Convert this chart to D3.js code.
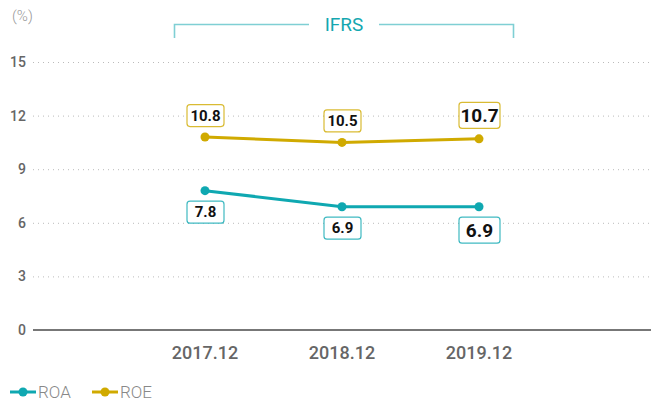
<!DOCTYPE html>
<html>
<head>
<meta charset="utf-8">
<script src="https://cdn.jsdelivr.net/npm/d3@7"></script>
<style>
  body { margin: 0; background: #fff; }
  svg { display: block; font-family: Roboto, "Noto Sans", sans-serif; }
</style>
</head>
<body>
<div id="vis_container"></div>
<script>
// Periods and values
var periods = ["2017.12", "2018.12", "2019.12"];
var roa = [7.8, 6.9, 6.9];
var roe = [10.8, 10.5, 10.7];
var y_ticks = [0, 3, 6, 9, 12, 15];

var width = 651;
var height = 401;

var teal = "#0fa8b1";
var gold = "#d0aa00";

var x = d3.scalePoint()
  .domain(periods)
  .range([205, 479]);

var y = d3.scaleLinear()
  .domain([0, 15])
  .range([330, 62]);

var svg = d3.select("#vis_container")
  .append("svg")
  .attr("width", width)
  .attr("height", height);

// unit label
svg.append("text")
  .attr("x", 12)
  .attr("y", 21)
  .style("font-size", "15px")
  .style("font-weight", "300")
  .style("fill", "#999")
  .text("(%)");

// IFRS bracket
var br = svg.append("g").style("stroke", "#7fcfd4").style("stroke-width", 1.6).style("fill", "none");
br.append("path").attr("d", "M174.5,38 V24.5 H309");
br.append("path").attr("d", "M379,24.5 H513.5 V38");
svg.append("text")
  .attr("x", 344)
  .attr("y", 31)
  .attr("text-anchor", "middle")
  .style("font-size", "19px")
  .style("fill", "#14a7b0")
  .text("IFRS");

// grid lines
svg.selectAll(".grid")
  .data(y_ticks.filter(function(d) { return d > 0; }))
  .enter().append("line")
  .attr("class", "grid")
  .attr("x1", 33).attr("x2", width)
  .attr("y1", function(d) { return y(d) + 0.5; })
  .attr("y2", function(d) { return y(d) + 0.5; })
  .style("stroke", "#bbbbbb")
  .style("stroke-width", 1)
  .style("stroke-dasharray", "1,4");

// baseline
svg.append("line")
  .attr("x1", 33).attr("x2", width)
  .attr("y1", y(0)).attr("y2", y(0))
  .style("stroke", "#777")
  .style("stroke-width", 2);

// y tick labels
svg.selectAll(".ytick")
  .data(y_ticks)
  .enter().append("text")
  .attr("class", "ytick")
  .attr("x", 26)
  .attr("y", function(d) { return y(d) + 5; })
  .attr("text-anchor", "end")
  .style("font-size", "14px")
  .style("font-weight", "500")
  .style("fill", "#666")
  .text(function(d) { return d; });

// x labels
svg.selectAll(".xtick")
  .data(periods)
  .enter().append("text")
  .attr("class", "xtick")
  .attr("x", function(d) { return x(d); })
  .attr("y", 359)
  .attr("text-anchor", "middle")
  .style("font-size", "18px")
  .style("font-weight", "500")
  .style("fill", "#666")
  .text(function(d) { return d; });

var line = d3.line()
  .x(function(d, i) { return x(periods[i]); })
  .y(function(d) { return y(d); });

function drawSeries(values, color, above) {
  svg.append("path")
    .datum(values)
    .attr("d", line)
    .style("fill", "none")
    .style("stroke", color)
    .style("stroke-width", 3);

  svg.selectAll(null)
    .data(values)
    .enter().append("circle")
    .attr("cx", function(d, i) { return x(periods[i]); })
    .attr("cy", function(d) { return y(d); })
    .attr("r", 4.5)
    .style("fill", color);

  // value boxes, the latest one is drawn larger
  values.forEach(function(v, i) {
    var big = i == values.length - 1;
    var bw = big ? 41 : 37;
    var bh = big ? 26 : 22;
    var cx = x(periods[i]);
    var top = above ? y(v) - 11 - bh : y(v) + 10;
    svg.append("rect")
      .attr("x", cx - bw / 2 + 0.5)
      .attr("y", top + 0.5)
      .attr("width", bw)
      .attr("height", bh)
      .attr("rx", 3)
      .style("fill", "#fff")
      .style("stroke", color)
      .style("stroke-opacity", 0.8)
      .style("stroke-width", 1.2);
    svg.append("text")
      .attr("x", cx + 0.5)
      .attr("y", top + bh / 2 + (big ? 7 : 5.5))
      .attr("text-anchor", "middle")
      .style("font-size", big ? "19px" : "15px")
      .style("font-weight", "bold")
      .style("fill", "#111")
      .text(v.toFixed(1));
  });
}

drawSeries(roe, gold, true);
drawSeries(roa, teal, false);

// legend
var legend = [["ROA", teal, 10], ["ROE", gold, 92]];
legend.forEach(function(l) {
  svg.append("line")
    .attr("x1", l[2]).attr("x2", l[2] + 26)
    .attr("y1", 392).attr("y2", 392)
    .style("stroke", l[1]).style("stroke-width", 3);
  svg.append("circle")
    .attr("cx", l[2] + 13).attr("cy", 392).attr("r", 4.5)
    .style("fill", l[1]);
  svg.append("text")
    .attr("x", l[2] + 28)
    .attr("y", 398)
    .style("font-size", "17px")
    .style("font-weight", "300")
    .style("fill", "#888")
    .text(l[0]);
});
</script>
</body>
</html>
